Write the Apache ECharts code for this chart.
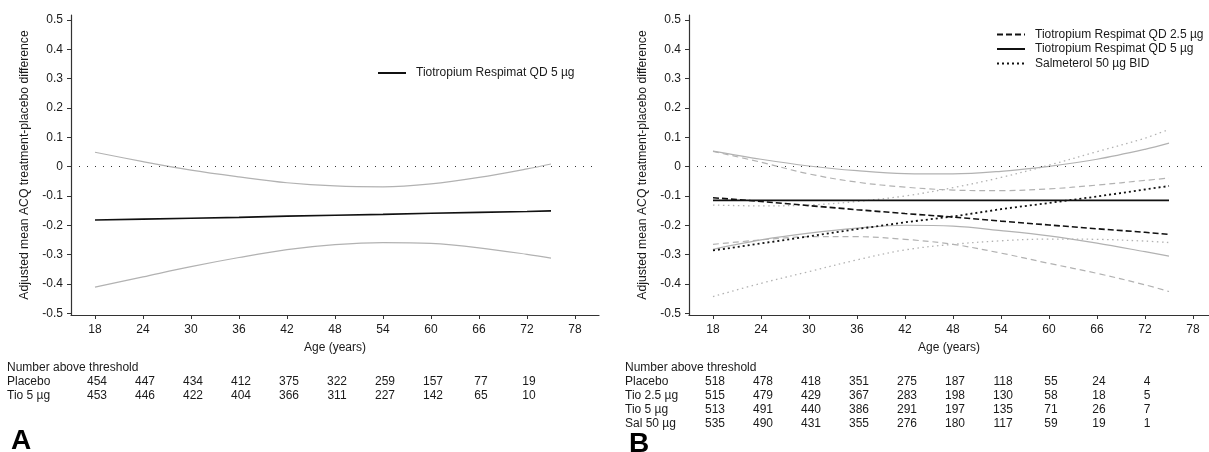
<!DOCTYPE html>
<html>
<head>
<meta charset="utf-8">
<script src="https://cdn.jsdelivr.net/npm/echarts@6/dist/echarts.min.js"></script>
<style>
html,body{margin:0;padding:0;background:#fff;}
#chart{width:1209px;height:452px;}
</style>
</head>
<body>
<div id="chart"></div>
<script>
// ---- tick labels ----
const xTicks = [18, 24, 30, 36, 42, 48, 54, 60, 66, 72, 78];
const yTicks = [-0.5, -0.4, -0.3, -0.2, -0.1, 0, 0.1, 0.2, 0.3, 0.4, 0.5];
const curveAges = [18, 24, 30, 36, 42, 48, 54, 60, 66, 72, 75];
const tableAges = [18, 24, 30, 36, 42, 48, 54, 60, 66, 72];

// ---- Panel A ----
const aTio5Est   = [-0.182, -0.179, -0.176, -0.173, -0.169, -0.166, -0.163, -0.159, -0.156, -0.153, -0.151];
const aTio5Upper = [0.049, 0.017, -0.012, -0.035, -0.055, -0.066, -0.069, -0.059, -0.037, -0.008, 0.009];
const aTio5Lower = [-0.411, -0.376, -0.341, -0.310, -0.283, -0.266, -0.259, -0.262, -0.277, -0.299, -0.312];

// ---- Panel B ----
const bTio25Est   = [-0.106, -0.119, -0.133, -0.147, -0.160, -0.172, -0.186, -0.199, -0.212, -0.224, -0.231];
const bTio25Upper = [0.052, 0.015, -0.025, -0.053, -0.070, -0.080, -0.082, -0.076, -0.063, -0.047, -0.039];
const bTio25Lower = [-0.265, -0.250, -0.239, -0.239, -0.248, -0.265, -0.295, -0.330, -0.364, -0.403, -0.426];
const bTio5Est    = [-0.115, -0.115, -0.115, -0.115, -0.115, -0.115, -0.115, -0.115, -0.115, -0.115, -0.115];
const bTio5Upper  = [0.053, 0.025, 0.002, -0.014, -0.024, -0.025, -0.016, 0.001, 0.025, 0.059, 0.080];
const bTio5Lower  = [-0.282, -0.250, -0.227, -0.210, -0.200, -0.203, -0.218, -0.236, -0.261, -0.290, -0.305];
const bSalEst     = [-0.286, -0.262, -0.238, -0.213, -0.190, -0.170, -0.145, -0.124, -0.102, -0.078, -0.066];
const bSalUpper   = [-0.131, -0.134, -0.131, -0.119, -0.100, -0.072, -0.037, 0.005, 0.051, 0.097, 0.127];
const bSalLower   = [-0.443, -0.398, -0.358, -0.318, -0.284, -0.265, -0.253, -0.247, -0.248, -0.254, -0.259];

// ---- Number above threshold tables ----
const tableTitle = 'Number above threshold';
const aRowLabels = ['Placebo', 'Tio 5 µg'];
const aPlacebo = [454, 447, 434, 412, 375, 322, 259, 157, 77, 19];
const aTio5    = [453, 446, 422, 404, 366, 311, 227, 142, 65, 10];
const bRowLabels = ['Placebo', 'Tio 2.5 µg', 'Tio 5 µg', 'Sal 50 µg'];
const bPlacebo = [518, 478, 418, 351, 275, 187, 118, 55, 24, 4];
const bTio25   = [515, 479, 429, 367, 283, 198, 130, 58, 18, 5];
const bTio5    = [513, 491, 440, 386, 291, 197, 135, 71, 26, 7];
const bSal50   = [535, 490, 431, 355, 276, 180, 117, 59, 19, 1];

const NAME_T25 = 'Tiotropium Respimat QD 2.5 µg';
const NAME_T5 = 'Tiotropium Respimat QD 5 µg';
const NAME_SAL = 'Salmeterol 50 µg BID';
const yTitle = 'Adjusted mean ACQ treatment-placebo difference';
const xTitle = 'Age (years)';

const FONT = '"Liberation Sans", Arial, Helvetica, sans-serif';
const TXT = '#1a1a1a';
const GRAY = '#b2b2b2';
const BLACK = '#111111';

function pairs(ys) { return curveAges.map((a, i) => [a, ys[i]]); }

function xAxisCfg(gridIndex, max) {
  return {
    type: 'value', gridIndex, min: 15, max,
    name: xTitle, nameLocation: 'middle', nameGap: 27,
    nameTextStyle: { fontFamily: FONT, fontSize: 12, color: TXT },
    axisLine: { show: true, onZero: false, lineStyle: { color: '#333', width: 1.2 } },
    axisTick: { show: true, length: 4, customValues: xTicks, lineStyle: { color: '#333' } },
    axisLabel: { customValues: xTicks, margin: 9, fontFamily: FONT, fontSize: 12, color: TXT },
    splitLine: { show: false }
  };
}
function yAxisCfg(gridIndex) {
  return {
    type: 'value', gridIndex, min: -0.506, max: 0.517,
    name: yTitle, nameLocation: 'middle', nameGap: 40,
    nameTextStyle: { fontFamily: FONT, fontSize: 12.2, color: TXT },
    axisLine: { show: true, onZero: false, lineStyle: { color: '#333', width: 1.2 } },
    axisTick: { show: true, length: 4, customValues: yTicks, lineStyle: { color: '#333' } },
    axisLabel: {
      customValues: yTicks, margin: 8, fontFamily: FONT, fontSize: 12, color: TXT,
      formatter: v => String(Math.round(v * 10) / 10)
    },
    splitLine: { show: false }
  };
}
function line(name, idx, ys, color, width, type, extra) {
  return Object.assign({
    name, type: 'line', xAxisIndex: idx, yAxisIndex: idx,
    data: pairs(ys), symbol: 'none', smooth: false,
    lineStyle: { color, width, type }, itemStyle: { color },
    silent: true, z: color === BLACK ? 5 : 3
  }, extra || {});
}
const zeroLine = {
  silent: true, symbol: 'none', label: { show: false },
  lineStyle: { color: '#333', width: 1, type: [1, 7] },
  data: [{ yAxis: 0 }]
};
const legendBase = {
  orient: 'vertical', padding: 0,
  itemWidth: 28, itemHeight: 12, itemGap: 2.5, selectedMode: false,
  itemStyle: { opacity: 0, borderWidth: 0 },
  textStyle: { fontFamily: FONT, fontSize: 12, color: TXT, padding: [0, 0, 0, 5] }
};

const chart = echarts.init(document.getElementById('chart'), null, { renderer: 'canvas' });
chart.setOption({
  animation: false,
  backgroundColor: '#fff',
  textStyle: { fontFamily: FONT },
  grid: [
    { left: 71, top: 15, width: 528, height: 300 },
    { left: 689, top: 15, width: 520, height: 300 }
  ],
  xAxis: [xAxisCfg(0, 81), xAxisCfg(1, 80)],
  yAxis: [yAxisCfg(0), yAxisCfg(1)],
  legend: [
    Object.assign({}, legendBase, { data: [NAME_T5], left: 377, top: 67 }),
    Object.assign({}, legendBase, { data: [NAME_T25, NAME_T5, NAME_SAL], left: 996, top: 28.5 })
  ],
  series: [
    line(NAME_T5, 0, aTio5Est, BLACK, 1.6, 'solid', { markLine: zeroLine }),
    line('A Tio 5 upper', 0, aTio5Upper, GRAY, 1.2, 'solid', { smooth: 0.35 }),
    line('A Tio 5 lower', 0, aTio5Lower, GRAY, 1.2, 'solid', { smooth: 0.35 }),

    line(NAME_T25, 1, bTio25Est, BLACK, 1.6, [6, 3], { markLine: zeroLine }),
    line('B Tio 2.5 upper', 1, bTio25Upper, GRAY, 1.2, [6, 4], { smooth: 0.35 }),
    line('B Tio 2.5 lower', 1, bTio25Lower, GRAY, 1.2, [6, 4], { smooth: 0.35 }),
    line(NAME_T5 + ' ', 1, bTio5Est, BLACK, 1.6, 'solid'),
    line('B Tio 5 upper', 1, bTio5Upper, GRAY, 1.2, 'solid', { smooth: 0.35 }),
    line('B Tio 5 lower', 1, bTio5Lower, GRAY, 1.2, 'solid', { smooth: 0.35 }),
    line(NAME_SAL, 1, bSalEst, BLACK, 1.8, [2, 3]),
    line('B Sal upper', 1, bSalUpper, GRAY, 1.3, [1.5, 3.5], { smooth: 0.35 }),
    line('B Sal lower', 1, bSalLower, GRAY, 1.3, [1.5, 3.5], { smooth: 0.35 })
  ]
});

// ---- tables and panel letters, positioned through the axes ----
function buildTable(gridIndex, labelX, rowLabels, rows) {
  const els = [];
  const top = 368, step = 13.8;
  els.push({ type: 'text', x: labelX, y: top, style: { text: tableTitle, font: '12px ' + FONT, fill: TXT, verticalAlign: 'middle', align: 'left' } });
  rowLabels.forEach((lab, r) => {
    const y = top + step * (r + 1);
    els.push({ type: 'text', x: labelX, y: y, style: { text: lab, font: '12px ' + FONT, fill: TXT, verticalAlign: 'middle', align: 'left' } });
    rows[r].forEach((v, i) => {
      const px = chart.convertToPixel({ xAxisIndex: gridIndex }, tableAges[i]);
      els.push({ type: 'text', x: px + 2, y: y, style: { text: String(v), font: '12px ' + FONT, fill: TXT, verticalAlign: 'middle', align: 'center' } });
    });
  });
  return els;
}
const graphics = []
  .concat(buildTable(0, 7, aRowLabels, [aPlacebo, aTio5]))
  .concat(buildTable(1, 625, bRowLabels, [bPlacebo, bTio25, bTio5, bSal50]))
  .concat([
    { type: 'text', x: 11, y: 427, style: { text: 'A', font: 'bold 28px ' + FONT, fill: '#000', verticalAlign: 'top', align: 'left' } },
    { type: 'text', x: 629, y: 430, style: { text: 'B', font: 'bold 28px ' + FONT, fill: '#000', verticalAlign: 'top', align: 'left' } }
  ]);
chart.setOption({ graphic: graphics });
</script>
</body>
</html>
